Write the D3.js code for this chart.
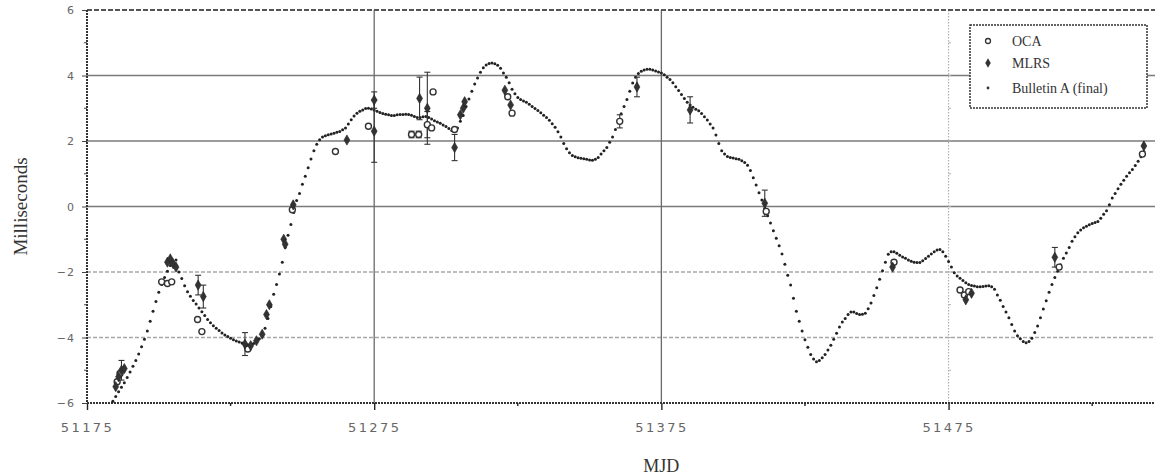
<!DOCTYPE html>
<html><head><meta charset="utf-8">
<script src="https://cdn.jsdelivr.net/npm/d3@7"></script>
<style>html,body{margin:0;padding:0;background:#fff}svg{display:block}</style>
</head><body><svg id="c" width="1155" height="476"></svg>
<script>
// ---------- data ----------
const xMajorTicks = [51175, 51275, 51375, 51475];
const xMinorTicks = [51225, 51325, 51425, 51525];
const yMajorTicks = [-6, -4, -2, 0, 2, 4, 6];
const yMinorTicks = [-5, -3, -1, 1, 3, 5];
const legendLabels = ["OCA", "MLRS", "Bulletin A (final)"];

// Bulletin A (final): one value per day starting at MJD 51184
const bulletinStart = 51184;
const bulletinA = [
-5.95,-5.80,-5.66,-5.52,-5.38,-5.22,-5.05,-4.88,-4.70,-4.50,-4.28,-4.05,-3.80,-3.50,-3.20,-2.90,-2.62,-2.38,-2.17,-1.98,
-1.80,-1.68,-1.63,-2.00,-2.20,-2.42,-2.60,-2.74,-2.87,-2.98,-3.10,-3.21,-3.33,-3.45,-3.55,-3.64,-3.72,-3.79,-3.86,-3.92,
-3.97,-4.02,-4.07,-4.11,-4.14,-4.17,-4.20,-4.22,-4.22,-4.18,-4.12,-4.04,-3.95,-3.72,-3.42,-3.05,-2.68,-2.38,-2.06,-1.70,
-1.25,-0.88,-0.55,-0.18,0.18,0.40,0.68,0.92,1.18,1.45,1.70,1.90,2.04,2.12,2.16,2.19,2.21,2.24,2.27,2.29,
2.34,2.40,2.52,2.65,2.76,2.85,2.91,2.95,2.99,3.00,2.98,2.95,2.91,2.87,2.84,2.82,2.80,2.78,2.78,2.80,
2.81,2.81,2.82,2.81,2.79,2.75,2.72,2.72,2.74,2.75,2.72,2.67,2.62,2.58,2.54,2.49,2.44,2.38,2.32,2.29,
2.40,2.60,2.78,3.05,3.28,3.52,3.74,3.92,4.10,4.24,4.32,4.37,4.38,4.36,4.31,4.22,4.08,3.95,3.78,3.58,
3.44,3.33,3.27,3.22,3.18,3.12,3.05,2.99,2.93,2.86,2.79,2.72,2.63,2.53,2.42,2.28,2.12,1.92,1.76,1.64,
1.56,1.52,1.49,1.47,1.46,1.44,1.42,1.41,1.44,1.50,1.60,1.70,1.80,1.96,2.12,2.35,2.60,2.83,3.05,3.27,
3.52,3.77,3.95,4.06,4.13,4.17,4.19,4.19,4.17,4.14,4.11,4.08,4.02,3.95,3.88,3.78,3.66,3.54,3.42,3.30,
3.18,3.10,3.03,2.97,2.92,2.84,2.74,2.64,2.52,2.40,2.18,1.92,1.70,1.60,1.53,1.50,1.48,1.46,1.44,1.40,
1.34,1.26,1.10,0.88,0.66,0.42,0.20,-0.05,-0.28,-0.50,-0.74,-0.97,-1.20,-1.45,-1.76,-2.10,-2.40,-2.80,-3.20,-3.50,
-3.80,-4.07,-4.30,-4.52,-4.66,-4.74,-4.70,-4.62,-4.52,-4.38,-4.24,-4.05,-3.87,-3.68,-3.53,-3.42,-3.30,-3.22,-3.22,-3.27,
-3.30,-3.29,-3.26,-3.12,-2.95,-2.72,-2.48,-2.22,-1.96,-1.70,-1.46,-1.38,-1.38,-1.43,-1.49,-1.54,-1.58,-1.63,-1.67,-1.70,
-1.71,-1.71,-1.66,-1.59,-1.52,-1.45,-1.38,-1.33,-1.31,-1.38,-1.52,-1.68,-1.85,-2.02,-2.12,-2.19,-2.26,-2.33,-2.38,-2.41,
-2.43,-2.45,-2.45,-2.44,-2.43,-2.42,-2.45,-2.53,-2.70,-2.86,-3.05,-3.22,-3.40,-3.60,-3.80,-3.95,-4.04,-4.12,-4.16,-4.12,
-4.02,-3.85,-3.65,-3.40,-3.13,-2.88,-2.62,-2.38,-2.17,-1.98,-1.78,-1.58,-1.42,-1.25,-1.06,-0.92,-0.80,-0.72,-0.65,-0.60,
-0.56,-0.52,-0.49,-0.46,-0.36,-0.24,-0.13,0.05,0.26,0.40,0.54,0.68,0.80,0.92,1.03,1.13,1.25,1.38,1.52,1.68
];

// OCA observations: MJD, value (ms), error (ms, 0 = none)
const ocaMjd = [51185.5,51186.5,51201,51203,51204.5,51213.5,51215,51231,51246.5,51261.5,51273,51288,51290.5,51293.5,51295,51295.5,51303,51321.5,51323,51360.5,51411.5,51456,51479,51480.5,51482,51513.5,51542.5];
const ocaVal = [-5.35,-5.10,-2.30,-2.35,-2.30,-3.45,-3.82,-4.35,-0.10,1.68,2.45,2.20,2.20,2.50,2.40,3.50,2.35,3.35,2.85,2.60,-0.15,-1.70,-2.55,-2.70,-2.60,-1.85,1.60];
const ocaErr = [0,0,0,0,0,0,0,0,0,0,0,0.1,0.1,0.4,0,0,0,0,0,0.2,0,0,0,0,0,0,0];

// MLRS observations
const mlrsMjd = [51185,51186,51187,51188,51203,51204,51205,51206,51213.7,51215.5,51230,51232,51234,51236,51237.5,51238.5,51243.5,51244,51246.8,51265.5,51275,51275,51290.8,51293.5,51303,51305,51306,51306.5,51320.5,51322.5,51366.5,51385,51411,51455.5,51481,51483,51512,51543];
const mlrsVal = [-5.50,-5.20,-5.00,-4.95,-1.70,-1.60,-1.75,-1.85,-2.40,-2.75,-4.20,-4.25,-4.10,-3.90,-3.30,-3.00,-1.00,-1.15,0.05,2.03,3.25,2.30,3.30,3.00,1.80,2.80,3.00,3.20,3.55,3.10,3.65,2.95,0.10,-1.85,-2.85,-2.65,-1.55,1.85];
const mlrsErr = [0,0,0.3,0,0,0,0,0,0.3,0.35,0.35,0,0,0,0,0,0,0,0,0,0.25,0.95,0.65,1.1,0.4,0,0,0,0,0,0.3,0.4,0.4,0,0,0,0.3,0];

// ---------- chart ----------
(function () {
const svg = d3.select("#c");
const W = 1155;
const x = d3.scaleLinear().domain([51175, 51545]).range([87, 1149.6]);
const y = d3.scaleLinear().domain([-6, 6]).range([403, 10]);
const pL = x(51175), pR = W, pT = y(6), pB = y(-6);

// horizontal grid lines
const g = svg.append("g");
[4, 2, 0].forEach(v => {
  g.append("line").attr("x1", pL).attr("x2", pR).attr("y1", y(v)).attr("y2", y(v))
    .attr("stroke", "#7a7a7a").attr("stroke-width", 1.7);
});
[-2, -4].forEach(v => {
  g.append("line").attr("x1", pL).attr("x2", pR).attr("y1", y(v)).attr("y2", y(v))
    .attr("stroke", "#a8a8a8").attr("stroke-width", 1.7).attr("stroke-dasharray", "4,2");
});
// vertical grid lines
[51275, 51375].forEach(v => {
  g.append("line").attr("x1", x(v)).attr("x2", x(v)).attr("y1", pT).attr("y2", pB)
    .attr("stroke", "#6a6a6a").attr("stroke-width", 1.3);
});
g.append("line").attr("x1", x(51475)).attr("x2", x(51475)).attr("y1", pT).attr("y2", pB)
  .attr("stroke", "#b0b0b0").attr("stroke-width", 1.2).attr("stroke-dasharray", "1.5,1.5");
yMinorTicks.concat(yMajorTicks).forEach(v => {
  g.append("line").attr("x1", x(51475)).attr("x2", x(51475) + 2.5).attr("y1", y(v)).attr("y2", y(v))
    .attr("stroke", "#b0b0b0");
});

// top border (dashed)
g.append("line").attr("x1", pL).attr("x2", pR).attr("y1", pT).attr("y2", pT)
  .attr("stroke", "#555").attr("stroke-width", 1.8).attr("stroke-dasharray", "5,2");

// x axis
const xAxis = d3.axisBottom(x).tickValues(xMajorTicks).tickSize(7).tickFormat(d3.format("d"));
const xa = svg.append("g").attr("transform", `translate(0,${pB})`).call(xAxis);
xa.select(".domain").remove();
xa.selectAll(".tick line").attr("stroke", "#222").attr("stroke-width", 1.4);
xa.selectAll(".tick text").attr("fill", "#666").attr("font-family", "DejaVu Sans, sans-serif")
  .attr("font-size", 13).attr("letter-spacing", "2.4px").attr("dy", "1.45em");
svg.append("line").attr("x1", pL).attr("x2", pR).attr("y1", pB).attr("y2", pB)
  .attr("stroke", "#333").attr("stroke-width", 1.8).attr("stroke-dasharray", "2,1");
xMinorTicks.forEach(v => {
  svg.append("line").attr("x1", x(v)).attr("x2", x(v)).attr("y1", pB).attr("y2", pB + 3)
    .attr("stroke", "#222").attr("stroke-width", 1.4);
});

// y axis
const yAxis = d3.axisLeft(y).tickValues(yMajorTicks).tickSize(5).tickFormat(d3.format("d"));
const ya = svg.append("g").attr("transform", `translate(${pL},0)`).call(yAxis);
ya.select(".domain").remove();
ya.selectAll(".tick line").attr("stroke", "#444");
ya.selectAll(".tick text").attr("fill", "#666").attr("font-family", "DejaVu Sans, sans-serif")
  .attr("font-size", 11).attr("letter-spacing", "1px").attr("x", -12);
svg.append("line").attr("x1", pL).attr("x2", pL).attr("y1", pT).attr("y2", pB)
  .attr("stroke", "#333").attr("stroke-width", 2).attr("stroke-dasharray", "2,1");
yMinorTicks.forEach(v => {
  svg.append("line").attr("x1", pL - 3).attr("x2", pL).attr("y1", y(v)).attr("y2", y(v))
    .attr("stroke", "#444");
});

// axis titles
svg.append("text").attr("transform", `translate(27,${y(0)}) rotate(-90)`)
  .attr("text-anchor", "middle").attr("font-family", "Liberation Serif, serif")
  .attr("font-size", 19).attr("fill", "#333").text("Milliseconds");
svg.append("text").attr("x", x(51375)).attr("y", 472)
  .attr("text-anchor", "middle").attr("font-family", "Liberation Serif, serif")
  .attr("font-size", 18).attr("fill", "#333").text("MJD");

// Bulletin A dots
const bull = bulletinA.map((v, i) => ({ mjd: bulletinStart + i, v }));
svg.append("g").selectAll("circle").data(bull).join("circle")
  .attr("cx", d => x(d.mjd)).attr("cy", d => y(d.v)).attr("r", 1.5).attr("fill", "#222");

// error bars helper
function errorBars(mjd, val, err) {
  const gg = svg.append("g").attr("stroke", "#333").attr("stroke-width", 1.1);
  mjd.forEach((m, i) => {
    if (!err[i]) return;
    const cx = x(m), y1 = y(val[i] + err[i]), y2 = y(val[i] - err[i]);
    gg.append("line").attr("x1", cx).attr("x2", cx).attr("y1", y1).attr("y2", y2);
    gg.append("line").attr("x1", cx - 3).attr("x2", cx + 3).attr("y1", y1).attr("y2", y1);
    gg.append("line").attr("x1", cx - 3).attr("x2", cx + 3).attr("y1", y2).attr("y2", y2);
  });
}
errorBars(ocaMjd, ocaVal, ocaErr);
errorBars(mlrsMjd, mlrsVal, mlrsErr);

// OCA markers (open)
svg.append("g").selectAll("circle").data(ocaMjd.map((m, i) => [m, ocaVal[i]])).join("circle")
  .attr("cx", d => x(d[0])).attr("cy", d => y(d[1])).attr("r", 3)
  .attr("fill", "#fff").attr("stroke", "#333").attr("stroke-width", 1.4);
// MLRS markers (filled)
svg.append("g").selectAll("path").data(mlrsMjd.map((m, i) => [m, mlrsVal[i]])).join("path")
  .attr("transform", d => `translate(${x(d[0])},${y(d[1])})`)
  .attr("d", d3.symbol(d3.symbolDiamond, 30))
  .attr("fill", "#333").attr("stroke", "#222").attr("stroke-width", 0.6);

// legend
const lg = svg.append("g");
lg.append("rect").attr("x", 970).attr("y", 25).attr("width", 177).attr("height", 83)
  .attr("fill", "#fff").attr("stroke", "#333").attr("stroke-width", 1.5).attr("stroke-dasharray", "2,1");
const ly = [41, 63, 88];
lg.append("circle").attr("cx", 988).attr("cy", ly[0]).attr("r", 2.5)
  .attr("fill", "#fff").attr("stroke", "#333").attr("stroke-width", 1.3);
lg.append("path").attr("transform", `translate(988,${ly[1]})`).attr("d", d3.symbol(d3.symbolDiamond, 26))
  .attr("fill", "#333");
lg.append("circle").attr("cx", 988).attr("cy", ly[2]).attr("r", 1.4).attr("fill", "#333");
legendLabels.forEach((t, i) => {
  lg.append("text").attr("x", 1012).attr("y", ly[i]).attr("dy", "0.35em")
    .attr("font-family", "Liberation Serif, serif").attr("font-size", 14).attr("fill", "#333").text(t);
});
})();
</script></body></html>
